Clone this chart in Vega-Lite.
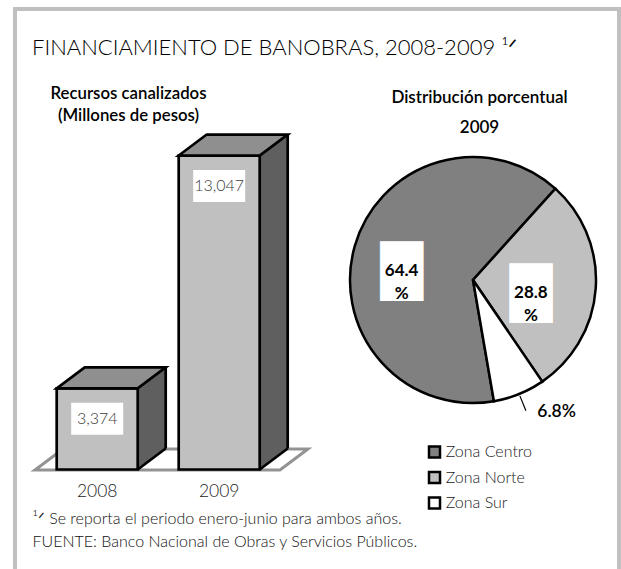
{
  "$schema": "https://vega.github.io/schema/vega-lite/v6.json",
  "width": 604,
  "height": 580,
  "autosize": {"type": "none"},
  "padding": {"left": 15, "top": 9, "right": 2, "bottom": 0},
  "background": "white",
  "config": {
    "font": "Lato",
    "view": {"stroke": "#c0c0c0", "strokeWidth": 4, "fill": "white"}
  },
  "title": {
    "text": "FINANCIAMIENTO DE BANOBRAS, 2008-2009 ¹ᐟ",
    "anchor": "start",
    "frame": "group",
    "offset": 0,
    "dx": 17,
    "dy": 68,
    "baseline": "alphabetic",
    "fontSize": 22,
    "fontWeight": 300,
    "color": "black",
    "font": "Lato"
  },
  "datasets": {
    "bars": [
      {"year": "2008", "value": 3374},
      {"year": "2009", "value": 13047}
    ],
    "zones": [
      {"zone": "Zona Centro", "pct": 64.4},
      {"zone": "Zona Norte", "pct": 28.8},
      {"zone": "Zona Sur", "pct": 6.8}
    ]
  },
  "layer": [
    {
      "data": {"name": "bars"},
      "transform": [{"filter": "datum.year == '2008'"}],
      "mark": {"type": "point", "shape": "M-1,0.0769L0.7949,0.0769L1,-0.0769L-0.7949,-0.0769Z", "size": 74529, "filled": true, "fill": "white", "stroke": "#939393", "strokeWidth": 3, "opacity": 1, "xOffset": 74.25, "yOffset": -10},
      "encoding": {
        "x": {"field": "year", "type": "nominal"},
        "y": {"datum": 0, "type": "quantitative"}
      }
    },
    {
      "data": {"name": "bars"},
      "mark": {"type": "bar", "width": 28, "xOffset": 54.5, "yOffset": -21, "y2Offset": -21, "fill": "#5f5f5f", "strokeWidth": 0},
      "encoding": {
        "x": {"field": "year", "type": "nominal"},
        "y": {"field": "value", "type": "quantitative"},
        "y2": {"datum": 0}
      }
    },
    {
      "data": {"name": "bars"},
      "mark": {"type": "point", "shape": "M0,-0.82L0,0L1,-0.75L1,-0.82Z", "size": 3136, "filled": true, "fill": "#5f5f5f", "strokeWidth": 0, "opacity": 1, "xOffset": 40.5},
      "encoding": {
        "x": {"field": "year", "type": "nominal"},
        "y": {"datum": 0, "type": "quantitative"}
      }
    },
    {
      "data": {"name": "bars"},
      "mark": {"type": "rule", "xOffset": 68.5, "yOffset": -21, "y2Offset": -21, "stroke": "black", "strokeWidth": 2.7},
      "encoding": {
        "x": {"field": "year", "type": "nominal"},
        "y": {"field": "value", "type": "quantitative"},
        "y2": {"datum": 0}
      }
    },
    {
      "data": {"name": "bars"},
      "mark": {"type": "point", "shape": "M0,0L1,-0.75", "size": 3136, "filled": false, "stroke": "black", "strokeWidth": 2.7, "opacity": 1, "xOffset": 40.5},
      "encoding": {
        "x": {"field": "year", "type": "nominal"},
        "y": {"datum": 0, "type": "quantitative"}
      }
    },
    {
      "data": {"name": "bars"},
      "mark": {"type": "bar", "fill": "#c0c0c0", "stroke": "black", "strokeWidth": 2.7},
      "encoding": {
        "x": {
          "field": "year", "type": "nominal",
          "scale": {"type": "band", "range": [41.7, 244.7], "paddingInner": 0.336, "paddingOuter": 0},
          "axis": {
            "orient": "bottom", "offset": -119.5, "domain": false, "ticks": false, "grid": false,
            "labelAngle": 0, "labelAlign": "center", "labelFontSize": 17.5, "labelFontWeight": 300, "labelColor": "#222",
            "labelBaseline": "middle", "labelPadding": 21.5,
            "title": ["¹ᐟ Se reporta el periodo enero-junio para ambos años.", "FUENTE: Banco Nacional de Obras y Servicios Públicos."],
            "titleX": 17, "titleY": 53.5, "titleAlign": "left", "titleAnchor": "start", "titleBaseline": "alphabetic",
            "titleFontSize": 16, "titleFontWeight": 300, "titleColor": "#111", "titleLineHeight": 23
          }
        },
        "y": {
          "field": "value", "type": "quantitative",
          "scale": {"domain": [0, 14000], "range": [460.5, 123.6], "nice": false, "zero": true},
          "axis": {
            "orient": "left", "domain": false, "ticks": false, "labels": false, "grid": false,
            "title": ["Recursos canalizados", "(Millones de pesos)"],
            "titleAngle": 0, "titleX": 113, "titleY": 89.5, "titleAlign": "center", "titleBaseline": "alphabetic",
            "titleFontSize": 16.8, "titleFontWeight": 600, "titleColor": "black", "titleLineHeight": 22
          }
        }
      }
    },
    {
      "data": {"name": "bars"},
      "mark": {"type": "point", "shape": "M0,0L1.4862,0L2,-0.3853L0.5138,-0.3853Z", "size": 11881, "filled": true, "fill": "#8f8f8f", "stroke": "black", "strokeWidth": 2.7, "strokeJoin": "miter", "opacity": 1, "xOffset": -40.5},
      "encoding": {
        "x": {"field": "year", "type": "nominal"},
        "y": {"field": "value", "type": "quantitative"}
      }
    },
    {
      "data": {"name": "bars"},
      "mark": {"type": "bar", "width": 52, "yOffset": 14.5, "y2Offset": 46.5, "fill": "white", "strokeWidth": 0},
      "encoding": {
        "x": {"field": "year", "type": "nominal"},
        "y": {"field": "value", "type": "quantitative"},
        "y2": {"field": "value"}
      }
    },
    {
      "data": {"name": "bars"},
      "mark": {"type": "text", "yOffset": 30.5, "fontSize": 16, "fontWeight": 300, "fill": "#3c3c3c", "baseline": "middle", "align": "center"},
      "encoding": {
        "x": {"field": "year", "type": "nominal"},
        "y": {"field": "value", "type": "quantitative"},
        "text": {"field": "value", "type": "quantitative", "format": ","}
      }
    },
    {
      "data": {"name": "zones"},
      "mark": {"type": "arc", "x": 458, "y": 271, "radius": 123, "stroke": "black", "strokeWidth": 2.5},
      "encoding": {
        "theta": {"field": "pct", "type": "quantitative", "stack": true, "scale": {"range": [2.9706, 9.2538]}},
        "color": {
          "field": "zone", "type": "nominal",
          "scale": {"domain": ["Zona Centro", "Zona Norte", "Zona Sur"], "range": ["#808080", "#c0c0c0", "#ffffff"]},
          "legend": {
            "orient": "none", "legendX": 376.5, "legendY": 81,
            "title": ["Distribución porcentual", "2009"],
            "titleFontSize": 17, "titleFontWeight": 600, "titleColor": "black", "titleLineHeight": 30,
            "titleAnchor": "middle", "titleAlign": "center", "titlePadding": 307, "titleLimit": 400,
            "symbolType": "square", "symbolSize": 121, "symbolStrokeColor": "black", "symbolStrokeWidth": 2.5,
            "symbolOffset": 0, "labelOffset": 3.25,
            "labelFontSize": 16, "labelFontWeight": 300, "labelColor": "#222", "rowPadding": 3.5, "labelLimit": 300
          }
        }
      }
    },
    {
      "data": {"name": "zones"},
      "mark": {"type": "text", "text": "█", "font": "DejaVu Sans Mono", "fontSize": 28.5, "fill": "white", "stroke": "white", "strokeWidth": 25.8, "strokeJoin": "miter", "x": 458, "y": 271, "radius": 66, "dx": -8, "dy": 10, "align": "center", "baseline": "middle"},
      "encoding": {
        "theta": {"field": "pct", "type": "quantitative", "stack": true},
        "detail": {"field": "zone"},
        "opacity": {"condition": {"test": "datum.zone !== 'Zona Sur'", "value": 1}, "value": 0}
      }
    },
    {
      "data": {"name": "zones"},
      "mark": {"type": "text", "text": {"expr": "[format(datum.pct, '.1f'), '%']"}, "lineHeight": 23, "x": 458, "y": 271, "radius": 66, "dx": -8, "dy": 9, "align": "center", "baseline": "middle", "fontSize": 17, "fontWeight": 700, "fill": "black"},
      "encoding": {
        "theta": {"field": "pct", "type": "quantitative", "stack": true},
        "detail": {"field": "zone"},
        "opacity": {"condition": {"test": "datum.zone !== 'Zona Sur'", "value": 1}, "value": 0}
      }
    },
    {
      "data": {"name": "zones"},
      "mark": {"type": "arc", "x": 458, "y": 271, "radius": 141, "radius2": 125, "padAngle": 0.6, "fill": "transparent", "stroke": "black", "strokeWidth": 1.2},
      "encoding": {
        "theta": {"field": "pct", "type": "quantitative", "stack": true},
        "detail": {"field": "zone"},
        "strokeOpacity": {"condition": {"test": "datum.zone === 'Zona Sur'", "value": 1}, "value": 0}
      }
    },
    {
      "data": {"name": "zones"},
      "mark": {"type": "text", "text": {"expr": "format(datum.pct, '.1f') + '%'"}, "x": 458, "y": 271, "radius": 142, "dx": 11, "align": "left", "baseline": "middle", "fontSize": 17.5, "fontWeight": 600, "fill": "black"},
      "encoding": {
        "theta": {"field": "pct", "type": "quantitative", "stack": true},
        "detail": {"field": "zone"},
        "opacity": {"condition": {"test": "datum.zone === 'Zona Sur'", "value": 1}, "value": 0}
      }
    }
  ]
}
